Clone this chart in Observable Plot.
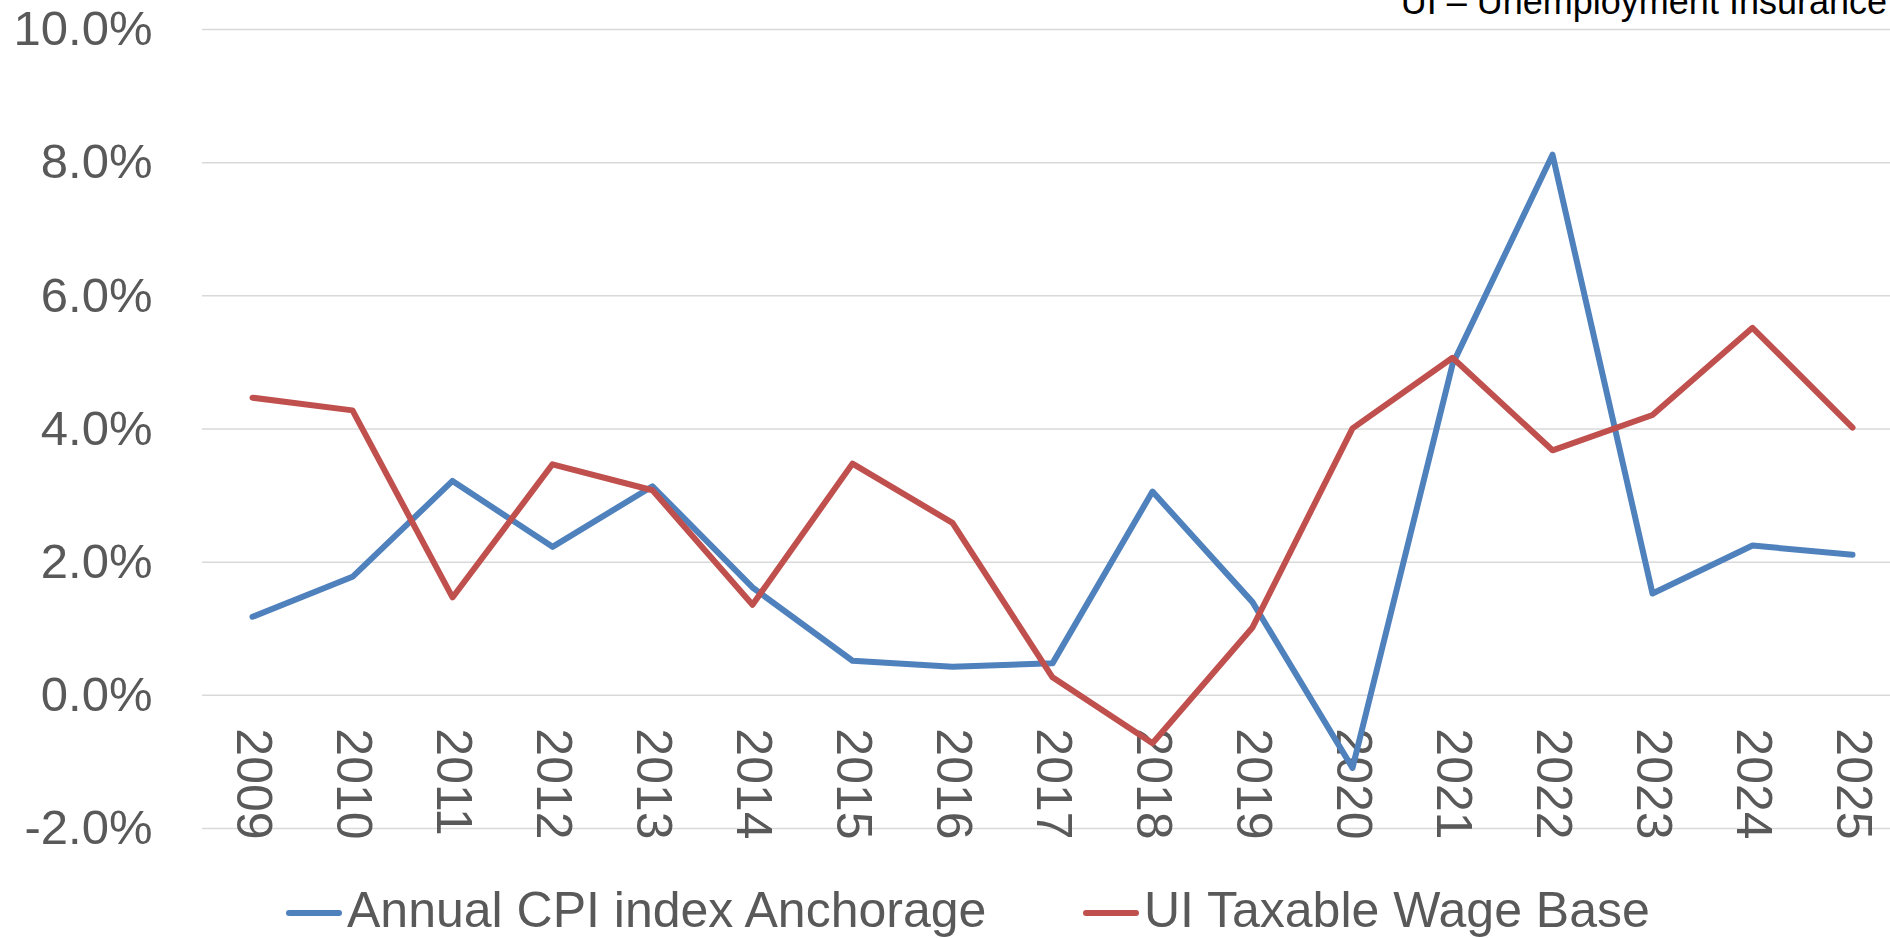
<!DOCTYPE html>
<html>
<head>
<meta charset="utf-8">
<script src="https://cdn.jsdelivr.net/npm/d3@7"></script>
<script src="https://cdn.jsdelivr.net/npm/@observablehq/plot@0.6"></script>
<style>
  html, body { margin: 0; padding: 0; background: #fff; width: 1890px; height: 938px; overflow: hidden; }
  #wrap { position: relative; width: 1890px; height: 938px; overflow: hidden; }
  #chart { position: absolute; left: 0; top: 0; }
  #title { position: absolute; right: 3px; top: -16px; font: 36px/36px "Liberation Sans", Arial, sans-serif; color: #000; white-space: nowrap; z-index: 2; }
  .leg { position: absolute; top: 885px; height: 50px; display: flex; align-items: center; font-family: "Liberation Sans", Arial, sans-serif; font-size: 50px; line-height: 50px; color: #595959; white-space: nowrap; }
  .sw { width: 56px; height: 6px; border-radius: 3px; margin-right: 5px; position: relative; top: 3px; }
</style>
</head>
<body>
<div id="wrap">
  <div id="chart"></div>
  <div id="title">UI – Unemployment Insurance</div>
  <div class="leg" style="left:286px"><div class="sw" id="s1"></div><span id="l1"></span></div>
  <div class="leg" style="left:1083px"><div class="sw" id="s2"></div><span id="l2"></span></div>
</div>
<script>
const years = [2009, 2010, 2011, 2012, 2013, 2014, 2015, 2016, 2017, 2018, 2019, 2020, 2021, 2022, 2023, 2024, 2025];
const cpiAnchorage = [1.18, 1.78, 3.22, 2.23, 3.14, 1.62, 0.52, 0.43, 0.48, 3.06, 1.40, -1.09, 4.97, 8.12, 1.53, 2.25, 2.11];
const uiWageBase = [4.47, 4.28, 1.47, 3.47, 3.08, 1.36, 3.48, 2.59, 0.27, -0.72, 1.02, 4.01, 5.07, 3.68, 4.21, 5.52, 4.02];
const yTicks = [-2, 0, 2, 4, 6, 8, 10];
const seriesNames = ["Annual CPI index Anchorage", "UI Taxable Wage Base"];
const seriesColors = ["#4f81bd", "#c0504d"];

document.getElementById("l1").textContent = seriesNames[0];
document.getElementById("l2").textContent = seriesNames[1];
document.getElementById("s1").style.background = seriesColors[0];
document.getElementById("s2").style.background = seriesColors[1];

const cpiData = years.map((year, i) => ({year, value: cpiAnchorage[i]}));
const uiData = years.map((year, i) => ({year, value: uiWageBase[i]}));

const chart = Plot.plot({
  width: 1890,
  height: 870,
  marginLeft: 202,
  marginRight: 0,
  marginTop: 29,
  marginBottom: 42,
  x: {type: "linear", domain: [2008.5, 2025.38], axis: null},
  y: {domain: [-2, 10], axis: null},
  marks: [
    Plot.ruleY(yTicks, {stroke: "#d9d9d9", strokeWidth: 1.5}),
    Plot.axisY(yTicks, {
      anchor: "left",
      tickSize: 0,
      tickPadding: 50,
      tickFormat: d => d.toFixed(1) + "%",
      fontSize: 49,
      fontFamily: "Liberation Sans",
      fill: "#595959",
      label: null
    }),
    Plot.text(years, {
      x: d => d,
      y: 0,
      text: d => String(d),
      rotate: 90,
      textAnchor: "start",
      lineAnchor: "middle",
      dy: 33,
      fontSize: 50,
      fontFamily: "Liberation Sans",
      fill: "#595959"
    }),
    Plot.lineY(cpiData, {x: "year", y: "value", stroke: seriesColors[0], strokeWidth: 6, strokeLinecap: "round", strokeLinejoin: "round"}),
    Plot.lineY(uiData, {x: "year", y: "value", stroke: seriesColors[1], strokeWidth: 6, strokeLinecap: "round", strokeLinejoin: "round"})
  ]
});
document.getElementById("chart").appendChild(chart);
</script>
</body>
</html>
